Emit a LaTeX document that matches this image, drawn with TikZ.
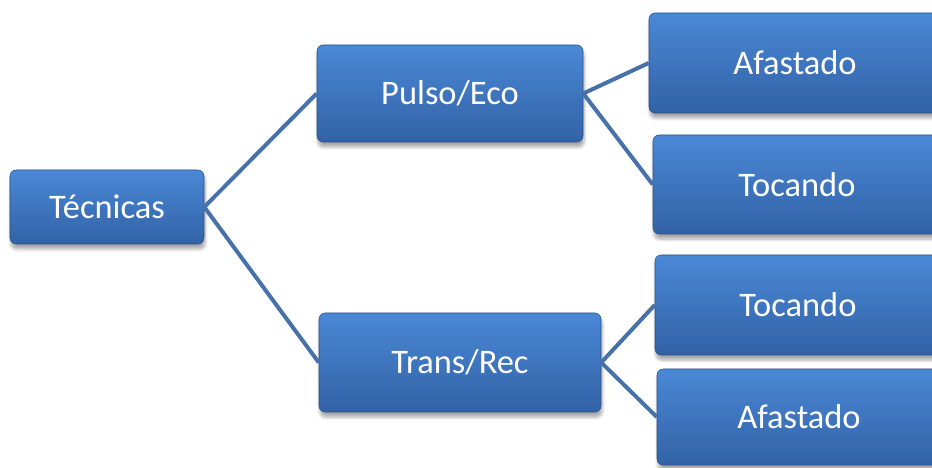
\documentclass[tikz,border=0pt]{standalone}
\usepackage{fontspec}
\setmainfont{Carlito}
\usetikzlibrary{shadows.blur}

\definecolor{boxtop}{HTML}{4A88D6}
\definecolor{boxbot}{HTML}{3262A6}
\definecolor{linkblue}{HTML}{4772A9}

\tikzset{
  tbox/.style={rounded corners=0.12cm, top color=boxtop, bottom color=boxbot,
    draw=boxbot!80!black, line width=0.3pt, text=white,
    font=\fontsize{19.6}{22}\selectfont, inner sep=0pt,
    blur shadow={shadow blur steps=6, shadow xshift=0.02cm, shadow yshift=-0.1cm, shadow opacity=35}},
  link/.style={draw=linkblue, line width=0.08cm}
}

\begin{document}
\begin{tikzpicture}
        \useasboundingbox (0,0) rectangle (18.64,-9.36);
        \clip (0,0) rectangle (18.64,-9.36);
        \node[tbox, minimum width=3.88cm, minimum height=1.48cm] (tec) at (2.14,-4.14) {Técnicas};
        \node[tbox, minimum width=5.32cm, minimum height=1.94cm] (pulso) at (9.0,-1.87) {Pulso/Eco};
        \node[tbox, minimum width=5.64cm, minimum height=1.98cm] (trans) at (9.2,-7.25) {Trans/Rec};
        \node[tbox, minimum width=5.84cm, minimum height=2.0cm] (pafast) at (15.9,-1.26) {Afastado};
        \node[tbox, minimum width=5.76cm, minimum height=1.98cm] (ptoc) at (15.94,-3.69) {Tocando};
        \node[tbox, minimum width=5.72cm, minimum height=2.0cm] (ttoc) at (15.96,-6.10) {Tocando};
        \node[tbox, minimum width=5.68cm, minimum height=1.92cm] (tafast) at (15.98,-8.34) {Afastado};
        \draw[link] (tec.east) -- (pulso.west);
        \draw[link] (tec.east) -- (trans.west);
        \draw[link] (pulso.east) -- (pafast.west);
        \draw[link] (pulso.east) -- (ptoc.west);
        \draw[link] (trans.east) -- (ttoc.west);
        \draw[link] (trans.east) -- (tafast.west);
       \end{tikzpicture}
\end{document}
